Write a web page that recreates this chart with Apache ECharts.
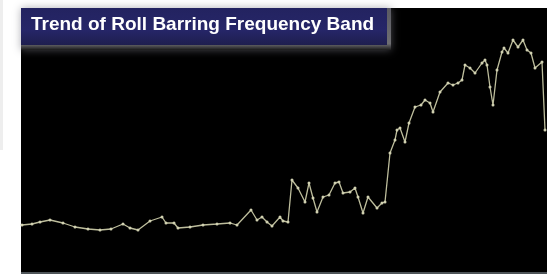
<!DOCTYPE html>
<html>
<head>
<meta charset="utf-8">
<script src="https://cdn.jsdelivr.net/npm/echarts@6/dist/echarts.min.js"></script>
<style>
  html, body { margin: 0; padding: 0; background: #fff; }
  #chart { width: 547px; height: 274px; }
</style>
</head>
<body>
<div id="chart"></div>
<script>
// sample position along the strip and band level
const samplePos = [1, 11, 19, 29, 42, 54, 67, 79, 90, 102, 109, 117, 129, 141, 145, 153, 157, 169, 182, 196,
  209, 216, 230, 236, 241, 246, 251, 259, 262, 267, 271, 277, 284, 288, 292, 296, 302, 308, 314, 318,
  322, 329, 334, 337, 342, 347, 356, 361, 364, 369, 374, 376, 379, 384, 388, 394, 400, 404, 409, 412,
  419, 427, 432, 437, 441, 444, 449, 454, 461, 464, 466, 469, 472, 476, 481, 483, 487, 492, 497, 502,
  506, 510, 514, 521, 524];
const bandLevel = [47, 48, 50, 52, 49, 45, 43, 42, 43, 48, 44, 42, 51, 55, 49, 49, 44, 45, 47, 48,
  49, 47, 62, 52, 55, 50, 46, 55, 51, 50, 92, 84, 70, 89, 74, 60, 75, 77, 89, 90,
  79, 80, 84, 75, 59, 75, 64, 69, 70, 119, 132, 142, 144, 130, 149, 165, 167, 172, 169, 160,
  180, 189, 187, 189, 192, 207, 204, 199, 209, 212, 207, 185, 167, 202, 220, 224, 219, 232, 225, 232,
  222, 219, 204, 210, 142];
const chartTitle = 'Trend of Roll Barring Frequency Band';

const chart = echarts.init(document.getElementById('chart'));
const points = samplePos.map((x, i) => [x, bandLevel[i]]);

const option = {
  backgroundColor: '#ffffff',
  animation: false,
  grid: {
    left: 21, top: 8, right: 0, bottom: 2,
    show: true, backgroundColor: '#000000', borderWidth: 0
  },
  xAxis: {
    type: 'value', min: 0, max: 526,
    show: false
  },
  yAxis: {
    type: 'value', min: 0, max: 264,
    show: false
  },
  graphic: [
    // thin grey strip on the far left
    { type: 'rect', left: 0, top: 0, shape: { width: 3, height: 150 }, style: { fill: '#eeeeee' } },
    // grey strip under the panel
    { type: 'rect', left: 21, top: 272, shape: { width: 526, height: 2 }, style: { fill: '#4e5458' } },
    // title box glow
    {
      type: 'rect', left: 21, top: 8, z: 10,
      shape: { width: 370, height: 42 },
      style: {
        fill: new echarts.graphic.LinearGradient(0, 0, 0, 1, [
          { offset: 0, color: '#5a5a62' },
          { offset: 0.85, color: '#6e6e72' },
          { offset: 1, color: '#1a1a1a' }
        ]),
        shadowBlur: 8, shadowColor: 'rgba(120,120,130,0.6)'
      }
    },
    // title box
    {
      type: 'rect', left: 21, top: 8, z: 11,
      shape: { width: 366, height: 37 },
      style: {
        fill: new echarts.graphic.LinearGradient(0, 0, 0, 1, [
          { offset: 0, color: '#232360' },
          { offset: 0.6, color: '#262668' },
          { offset: 1, color: '#1e1e4e' }
        ])
      }
    },
    {
      type: 'text', left: 31, top: 15, z: 12,
      style: {
        text: chartTitle,
        fill: '#ffffff',
        font: 'bold 19px "Liberation Sans", Arial, sans-serif'
      }
    }
  ],
  series: [{
    type: 'line',
    data: points,
    symbol: 'circle',
    symbolSize: 3,
    showSymbol: true,
    lineStyle: { color: '#bdbd9c', width: 1.3 },
    itemStyle: { color: '#d0d0b0' }
  }]
};

chart.setOption(option);
window.addEventListener('resize', function () {
  chart.resize();
});
</script>
</body>
</html>
